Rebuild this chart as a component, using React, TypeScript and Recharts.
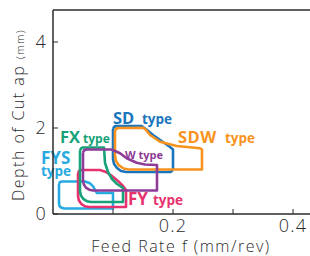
import React from 'react';
import { LineChart, Line, XAxis, YAxis, ReferenceLine } from 'recharts';

const fTicks = [0.1, 0.2, 0.3, 0.4];
const fLabelled = [0.2, 0.4];
const apTicks = [0, 2, 4];
const fMax = 0.4283;
const apMax = 4.744;

// application ranges, outline points as [feed f, depth ap]
const sdRange = [
  [0.1, 1.977], [0.1017, 2.023], [0.105, 2.047], [0.1478, 2.047], [0.1567, 1.953],
  [0.1667, 1.837], [0.1833, 1.674], [0.195, 1.558], [0.2, 1.5], [0.2, 1.047],
  [0.1983, 1.0], [0.195, 0.977], [0.1217, 0.977], [0.1133, 1.0], [0.1067, 1.07],
  [0.1017, 1.163], [0.1, 1.279],
];
const sdwRange = [
  [0.1033, 1.93], [0.105, 1.977], [0.1083, 2.0], [0.1505, 2.007], [0.155, 1.953],
  [0.1617, 1.837], [0.1783, 1.681], [0.2062, 1.581], [0.245, 1.528], [0.2483, 1.5],
  [0.2483, 1.035], [0.1267, 1.035], [0.1177, 1.058], [0.11, 1.13], [0.105, 1.233],
  [0.1033, 1.36],
];
const fysRange = [
  [0.01, 0.698], [0.0117, 0.744], [0.015, 0.756], [0.0533, 0.756], [0.0617, 0.714],
  [0.0672, 0.635], [0.07, 0.558], [0.0733, 0.488], [0.1, 0.488], [0.1, 0.128],
  [0.0183, 0.128], [0.0133, 0.151], [0.0108, 0.186], [0.01, 0.256],
];
const fxRange = [
  [0.045, 1.477], [0.0467, 1.523], [0.05, 1.547], [0.085, 1.547], [0.0867, 1.186],
  [0.0917, 0.977], [0.0983, 0.814], [0.1067, 0.698], [0.1167, 0.605], [0.1167, 0.279],
  [0.0633, 0.279], [0.0563, 0.298], [0.0503, 0.353], [0.0463, 0.437], [0.045, 0.535],
];
const fyRange = [
  [0.0417, 0.953], [0.0433, 1.0], [0.0467, 1.023], [0.0783, 1.023], [0.0883, 0.977],
  [0.0983, 0.884], [0.1083, 0.767], [0.1167, 0.651], [0.1217, 0.558], [0.1217, 0.163],
  [0.06, 0.163], [0.053, 0.181], [0.047, 0.237], [0.043, 0.321], [0.0417, 0.419],
];
const wRange = [
  [0.05, 1.43], [0.0517, 1.477], [0.055, 1.5], [0.0978, 1.5], [0.1117, 1.412],
  [0.1228, 1.295], [0.1395, 1.193], [0.1533, 1.151], [0.1733, 1.14], [0.1733, 0.547],
  [0.0667, 0.547], [0.0603, 0.565], [0.0548, 0.614], [0.0513, 0.691], [0.05, 0.779],
];

const colors = {
  sd: '#1b75bc',
  sdw: '#f7931e',
  fys: '#27aae1',
  fx: '#17a27a',
  fy: '#e6336f',
  w: '#8e3c97',
};

const ranges = [
  { name: 'SD', color: colors.sd, pts: sdRange },
  { name: 'SDW', color: colors.sdw, pts: sdwRange },
  { name: 'FYS', color: colors.fys, pts: fysRange },
  { name: 'FY', color: colors.fy, pts: fyRange },
  { name: 'FX', color: colors.fx, pts: fxRange },
  { name: 'W', color: colors.w, pts: wRange },
];

const closed = (pts: number[][]) =>
  [...pts, pts[0]].map(([f, ap]) => ({ f, ap }));

const font = "'Open Sans', sans-serif";
const ink = '#2b2b2b';
const tickStyle = { fill: ink, fontSize: 18, fontFamily: font, fontWeight: 300, letterSpacing: 1.2 };

export default function App() {
  return (
    <div style={{ position: 'absolute', left: 0, top: 0, width: 310, height: 256 }}>
      <LineChart width={310} height={256} margin={{ top: 10, right: 0, bottom: 0, left: 0 }}>
        <XAxis
          type="number"
          dataKey="f"
          domain={[0, fMax]}
          ticks={fTicks}
          allowDataOverflow
          height={42}
          tickSize={-5}
          tickMargin={10}
          tickFormatter={(v: number) => (fLabelled.includes(v) ? v.toFixed(1) : '')}
          axisLine={{ stroke: ink, strokeWidth: 1.5 }}
          tickLine={{ stroke: ink, strokeWidth: 1 }}
          tick={tickStyle}
        />
        <YAxis
          type="number"
          dataKey="ap"
          domain={[0, apMax]}
          ticks={apTicks}
          allowDataOverflow
          width={53}
          tickSize={-5}
          tickMargin={11}
          axisLine={{ stroke: ink, strokeWidth: 1.5 }}
          tickLine={{ stroke: ink, strokeWidth: 1 }}
          tick={tickStyle}
        />
        <ReferenceLine y={apMax} stroke={ink} strokeWidth={1.5} />
        {ranges.map((r) => (
          <Line
            key={r.name}
            name={r.name}
            data={closed(r.pts)}
            dataKey="ap"
            stroke={r.color}
            strokeWidth={2.6}
            strokeLinejoin="round"
            dot={false}
            activeDot={false}
            isAnimationActive={false}
          />
        ))}

        <text fontFamily={font} fontWeight={700} fill={colors.sd}>
          <tspan x={113} y={124} fontSize={16.5}>SD</tspan>
          <tspan x={142} y={124} fontSize={13.5}>type</tspan>
        </text>
        <text fontFamily={font} fontWeight={700} fill={colors.sdw}>
          <tspan x={178} y={143} fontSize={16.5} letterSpacing={0.5}>SDW</tspan>
          <tspan x={225} y={143} fontSize={13.5}>type</tspan>
        </text>
        <text fontFamily={font} fontWeight={700} fill={colors.fx}>
          <tspan x={60} y={143} fontSize={16.5}>FX</tspan>
          <tspan x={83} y={143} fontSize={12}>type</tspan>
        </text>
        <text
          fontFamily={font}
          fontWeight={700}
          fill={colors.fys}
          stroke="#fff"
          strokeWidth={3}
          paintOrder="stroke"
        >
          <tspan x={41} y={164} fontSize={17}>FYS</tspan>
          <tspan x={41} y={176} fontSize={13.5}>type</tspan>
        </text>
        <text fontFamily={font} fontWeight={700} fill={colors.w} fontSize={11}>
          <tspan x={125} y={159}>W type</tspan>
        </text>
        <text fontFamily={font} fontWeight={700} fill={colors.fy}>
          <tspan x={128} y={205} fontSize={17}>FY</tspan>
          <tspan x={153} y={205} fontSize={13.5}>type</tspan>
        </text>

        <text
          x={181}
          y={252}
          textAnchor="middle"
          fontFamily={font}
          fontWeight={300}
          fontSize={16}
          letterSpacing={1.5}
          fill={ink}
        >
          Feed Rate f (mm/rev)
        </text>
        <text
          transform="translate(24,201) rotate(-90)"
          fontFamily={font}
          fontWeight={300}
          letterSpacing={1.5}
          fill={ink}
        >
          <tspan fontSize={16}>Depth of Cut ap </tspan>
          <tspan fontSize={10.5}>(mm)</tspan>
        </text>
      </LineChart>
    </div>
  );
}
